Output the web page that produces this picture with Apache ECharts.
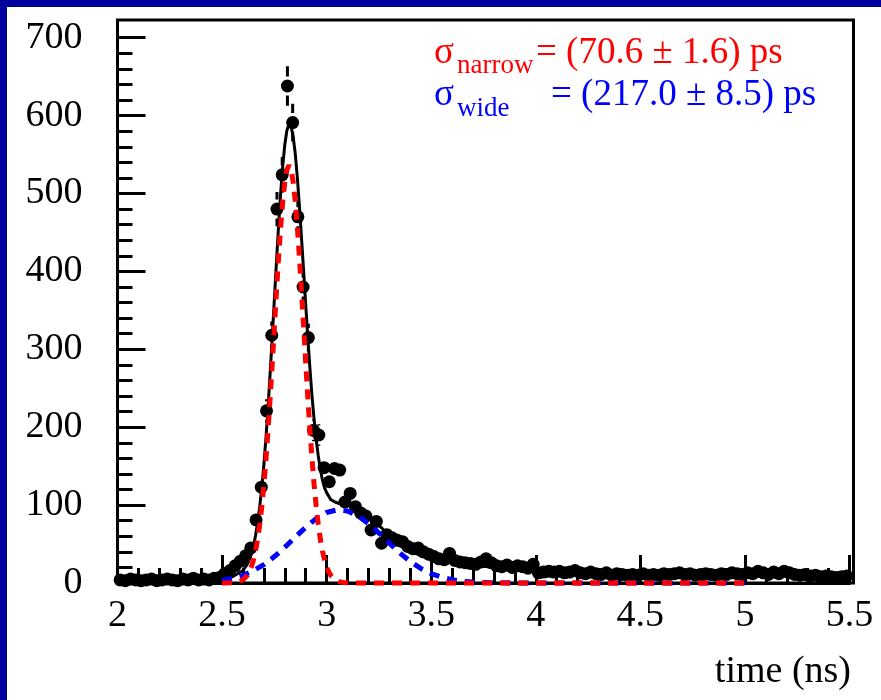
<!DOCTYPE html>
<html>
<head>
<meta charset="utf-8">
<script src="https://cdn.jsdelivr.net/npm/echarts@6/dist/echarts.min.js"></script>
<style>
  html, body { margin: 0; padding: 0; background: #fff; }
  #chart { width: 881px; height: 700px; }
</style>
</head>
<body>
<div id="chart"></div>
<script>
// Histogram of arrival times: 140 bins of 25 ps from 2.0 ns
const BIN_LOW = 2.0;
const BIN_WIDTH = 0.025;
const counts = [
  4, 3, 5, 4, 3, 4, 5, 3, 4, 5, 4, 3, 5, 4, 6, 4, 5, 4, 6, 7,
  12, 16, 22, 28, 35, 45,
  81, 123, 221, 318, 480, 524, 638, 591, 470, 380, 315, 196, 190, 148, 130, 147, 145, 104, 115,
  98, 90, 86, 68, 79, 51, 62, 58, 55, 53,
  47, 44, 45, 40, 37, 34, 31, 30, 38, 29,
  27, 26, 25, 24, 27, 31, 26, 22, 21, 23,
  20, 22, 21, 19, 24, 13, 14, 15, 14, 15,
  13, 14, 16, 13, 12, 14, 12, 11, 13, 10,
  12, 11, 10, 11, 10, 12, 10, 11, 10, 12,
  11, 12, 13, 11, 12, 10, 11, 12, 11, 10,
  12, 11, 13, 12, 11, 13, 12, 15, 13, 11,
  14, 12, 15, 13, 11, 10, 11, 9, 10, 8,
  9, 8, 7, 8, 9
];

// Narrow gaussian component of the fit
const narrowX = [2.50, 2.54, 2.56, 2.58, 2.60, 2.62, 2.63, 2.64, 2.65, 2.66, 2.67, 2.68, 2.69, 2.70,
  2.71, 2.72, 2.73, 2.74, 2.75, 2.76, 2.77, 2.78, 2.79, 2.80, 2.81, 2.82, 2.83, 2.84, 2.85, 2.86,
  2.87, 2.88, 2.89, 2.90, 2.91, 2.92, 2.93, 2.94, 2.95, 2.96, 2.97, 2.98, 2.99, 3.00, 3.01, 3.02,
  3.04, 3.06, 3.08, 3.10, 3.14, 5.00];
const narrowY = [0, 0.2, 0.6, 1.7, 4.2, 9.7, 14.3, 20.8, 29.5, 41.1, 56.1, 75.0, 98.4, 126.4,
  159.2, 196.6, 237.8, 282.1, 327.9, 373.5, 417.1, 456.5, 489.7, 514.9, 530.6, 536, 530.6, 514.9, 489.7, 456.5,
  417.1, 373.5, 327.9, 282.1, 237.8, 196.6, 159.2, 126.4, 98.4, 75.0, 56.1, 41.1, 29.5, 20.8, 14.3, 9.7,
  4.2, 1.7, 0.6, 0.2, 0, 0];

// Wide gaussian component of the fit
const wideX = [2.50, 2.55, 2.60, 2.65, 2.70, 2.75, 2.80, 2.85, 2.90, 2.95, 3.00, 3.05, 3.10, 3.15,
  3.20, 3.25, 3.30, 3.35, 3.40, 3.45, 3.50, 3.55, 3.60, 3.65, 3.70, 3.80, 3.90, 5.00];
const wideY = [3.4, 5.9, 9.9, 15.8, 23.7, 33.9, 45.8, 58.9, 71.6, 82.7, 90.5, 93.9, 92.4, 86.3,
  76.3, 64.1, 51.0, 38.5, 27.5, 18.7, 12.0, 7.4, 4.3, 2.3, 1.2, 0.3, 0, 0];

// Total fit
const fitX = [2.50, 2.55, 2.60, 2.62, 2.63, 2.64, 2.65, 2.66, 2.67, 2.68, 2.69, 2.70, 2.71, 2.72,
  2.73, 2.74, 2.75, 2.76, 2.77, 2.78, 2.79, 2.80, 2.81, 2.82, 2.83, 2.84, 2.85, 2.86, 2.87, 2.88,
  2.89, 2.90, 2.91, 2.92, 2.93, 2.94, 2.95, 2.96, 2.97, 2.98, 2.99, 3.00, 3.02, 3.04, 3.06, 3.08,
  3.10, 3.15, 3.20, 3.25, 3.30, 3.35, 3.40, 3.45, 3.50, 3.55, 3.60, 3.70, 3.80, 3.90, 4.00, 4.25,
  4.50, 4.75, 5.00];
const fitY = [5, 8, 16, 24, 30, 37, 47, 61, 77, 98, 123, 152, 187, 226,
  270, 316, 364, 412, 458, 500, 535, 563, 581, 589, 586, 573, 551, 520, 483, 442,
  400, 357, 315, 276, 240, 210, 184, 163, 146, 132, 122, 116, 107, 104, 102, 101,
  100, 94, 85, 74, 61, 50, 41, 35, 31, 28, 26, 23, 20, 18, 16, 13,
  11, 11, 11];

// Axis settings
const X_MIN = 2.0, X_MAX = 5.5, X_MAJOR = 0.5;
const Y_MIN = 0, Y_MAX = 700, Y_MAJOR = 100;
const MINOR_SPLIT = 5;
const MAJOR_LEN = 28, MINOR_LEN = 15;

// Plot area in pixels (frame extends slightly beyond the last major ticks)
const PLOT = { left: 117.5, right: 849.5, top: 37.7, bottom: 583 };
const FRAME = { left: 117.5, right: 853.5, top: 20, bottom: 583 };

const SERIF = '"Liberation Serif", "DejaVu Serif", serif';
const MARK_SIZE = 13;

const points = counts.map((c, i) => [BIN_LOW + (i + 0.5) * BIN_WIDTH, c, Math.sqrt(c)]);
const zip = (xs, ys) => xs.map((x, i) => [x, ys[i]]);

const chart = echarts.init(document.getElementById('chart'), null, { renderer: 'canvas' });

// Each axis gets its own style objects: inward major and minor ticks
function axisStyle(labelMargin) {
  return {
    axisLine: { show: true, onZero: false, lineStyle: { color: '#000', width: 3 } },
    axisTick: { show: true, inside: true, length: MAJOR_LEN, lineStyle: { color: '#000', width: 3 } },
    minorTick: { show: true, splitNumber: MINOR_SPLIT, length: MINOR_LEN, lineStyle: { color: '#000', width: 3 } },
    splitLine: { show: false },
    minorSplitLine: { show: false },
    axisLabel: { show: true, margin: labelMargin, color: '#000', fontFamily: SERIF, fontSize: 38 }
  };
}

chart.setOption({
  backgroundColor: '#ffffff',
  animation: false,
  grid: {
    left: PLOT.left, right: 881 - PLOT.right, top: PLOT.top, bottom: 700 - PLOT.bottom,
    show: false
  },
  xAxis: Object.assign({
    type: 'value', position: 'bottom', min: X_MIN, max: X_MAX, interval: X_MAJOR, z: 3
  }, axisStyle(14)),
  yAxis: Object.assign({
    type: 'value', position: 'left', min: Y_MIN, max: Y_MAX, interval: Y_MAJOR, z: 3
  }, axisStyle(35)),
  series: [
    {
      name: 'data', type: 'scatter', data: points, symbol: 'circle', symbolSize: MARK_SIZE,
      itemStyle: { color: '#000', opacity: 1 }, clip: true, z: 2
    },
    {
      name: 'errors', type: 'custom', data: points, clip: true, z: 2,
      renderItem: function (params, api) {
        const x = api.value(0), y = api.value(1), e = api.value(2);
        const c = api.coord([x, y]);
        const top = api.coord([x, y + e])[1];
        const bot = api.coord([x, y - e])[1];
        const gap = MARK_SIZE / 2 + 3;
        const style = { stroke: '#000', lineWidth: 3 };
        const kids = [];
        if (c[1] - gap > top) kids.push({ type: 'line', shape: { x1: c[0], y1: top, x2: c[0], y2: c[1] - gap }, style: style });
        if (bot > c[1] + gap) kids.push({ type: 'line', shape: { x1: c[0], y1: c[1] + gap, x2: c[0], y2: bot }, style: style });
        return { type: 'group', children: kids };
      }
    },
    {
      name: 'fit', type: 'line', data: zip(fitX, fitY), showSymbol: false, clip: true, z: 4,
      lineStyle: { color: '#000', width: 3 }
    },
    {
      name: 'wide', type: 'line', data: zip(wideX, wideY), showSymbol: false, clip: false, z: 5,
      lineStyle: { color: '#0000ff', width: 5, type: [10, 8] }
    },
    {
      name: 'narrow', type: 'line', data: zip(narrowX, narrowY), showSymbol: false, clip: false, z: 6,
      lineStyle: { color: '#ff0000', width: 5, type: [10, 8] }
    }
  ],
  graphic: [
    { type: 'rect', left: 0, top: 0, shape: { width: 881, height: 7 }, style: { fill: '#00009c' }, z: 100 },
    { type: 'rect', left: 0, top: 0, shape: { width: 7, height: 700 }, style: { fill: '#00009c' }, z: 100 },
    {
      type: 'rect', z: 1, silent: true,
      shape: { x: FRAME.left, y: FRAME.top, width: FRAME.right - FRAME.left, height: FRAME.bottom - FRAME.top },
      style: { fill: 'none', stroke: '#000', lineWidth: 3 }
    },
    { type: 'text', x: 434, y: 53, style: { text: 'σ', font: '37px ' + SERIF, fill: '#ff0000', verticalAlign: 'middle' }, z: 100 },
    { type: 'text', x: 457, y: 66, style: { text: 'narrow', font: '27px ' + SERIF, fill: '#ff0000', verticalAlign: 'middle' }, z: 100 },
    { type: 'text', x: 536, y: 53, style: { text: '= (70.6 ± 1.6) ps', font: '37px ' + SERIF, fill: '#ff0000', verticalAlign: 'middle' }, z: 100 },
    { type: 'text', x: 434, y: 95, style: { text: 'σ', font: '37px ' + SERIF, fill: '#0000ff', verticalAlign: 'middle' }, z: 100 },
    { type: 'text', x: 457, y: 109, style: { text: 'wide', font: '27px ' + SERIF, fill: '#0000ff', verticalAlign: 'middle' }, z: 100 },
    { type: 'text', x: 551, y: 95, style: { text: '= (217.0 ± 8.5) ps', font: '37px ' + SERIF, fill: '#0000ff', verticalAlign: 'middle' }, z: 100 },
    { type: 'text', x: 851, y: 672, style: { text: 'time (ns)', font: '38px ' + SERIF, fill: '#000', align: 'right', verticalAlign: 'middle' }, z: 100 }
  ]
});
</script>
</body>
</html>
